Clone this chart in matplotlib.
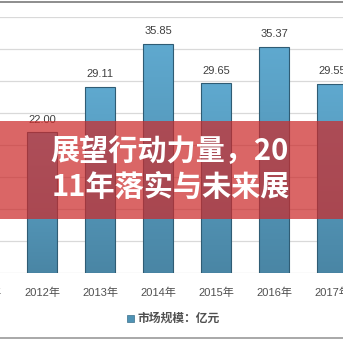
import numpy as np
import matplotlib
matplotlib.use("Agg")
import matplotlib.pyplot as plt
from matplotlib.patches import Rectangle
from matplotlib.lines import Line2D
from matplotlib.colors import LinearSegmentedColormap

# ---- data ----
years = ["2011年", "2012年", "2013年", "2014年", "2015年", "2016年", "2017年"]
bar_years = ["2012年", "2013年", "2014年", "2015年", "2016年", "2017年"]
values = [22.00, 29.11, 35.85, 29.65, 35.37, 29.55]
legend_label = "市场规模：亿元"
title_line1 = "展望行动力量，20"
title_line2 = "11年落实与未来展"

W = H = 343
fig = plt.figure(figsize=(3.43, 3.43), dpi=100)
fig.patch.set_facecolor("white")

# axes: baseline at y=273px from top, 40 at y=17px
ax = fig.add_axes([0, 70 / H, 1, 256 / H])
ax.set_xlim(16 / 58, (343 + 16) / 58)
ax.set_ylim(0, 40)
for s in ax.spines.values():
    s.set_visible(False)
ax.set_yticks(np.arange(0, 41, 5))
ax.tick_params(left=False, labelleft=False, bottom=False, labelbottom=False)
ax.grid(axis="y", color="#d9d9d9", linewidth=0.9)
ax.set_axisbelow(True)

pos = {y: i for i, y in enumerate(years)}
xs = [pos[y] for y in bar_years]
bars = ax.bar(xs, values, width=30 / 58, color="none", edgecolor="#2f5c74",
              linewidth=0.8, zorder=3)
cmap = LinearSegmentedColormap.from_list("g", ["#4a86a5", "#5fa9cf"])
grad = np.linspace(0, 1, 100).reshape(-1, 1)
for b in bars:
    x0, w, h = b.get_x(), b.get_width(), b.get_height()
    im = ax.imshow(grad, cmap=cmap, origin="lower", aspect="auto",
                   extent=(x0, x0 + w, 0, h), zorder=2)
    im.set_clip_path(b)
ax.set_xlim(16 / 58, (343 + 16) / 58)
ax.set_ylim(0, 40)

lab_font = ["Liberation Sans", "Noto Sans CJK SC"]
for x, v in zip(xs, values):
    ax.annotate(f"{v:.2f}", (x, v), xytext=(0, 9), textcoords="offset points",
                ha="center", va="center", fontsize=8, color="#404040",
                family=lab_font)

# category labels
for y, i in pos.items():
    ax.annotate(y, (i, 0), xytext=(0, -14), textcoords="offset points",
                ha="center", va="center", fontsize=8, color="#505050",
                family=["Liberation Sans", "Noto Sans CJK SC"],
                annotation_clip=False)

# legend
fig.patches.append(Rectangle(((127) / W, 1 - 322 / H), 7 / W, 7 / H,
                             transform=fig.transFigure, facecolor="#4f93b5",
                             edgecolor="#3b6f8a", linewidth=0.5))
fig.text(137 / W, 1 - 318 / H, legend_label, ha="left", va="center",
         fontsize=8.5, color="#505050", family=["Noto Sans CJK SC"],
         fontweight="bold")

# frame lines
fig.add_artist(Line2D([0, 1], [1 - 2 / H, 1 - 2 / H], color="#7a7a7a",
                      linewidth=1.2, transform=fig.transFigure))
fig.add_artist(Line2D([0, 1], [1 - 338 / H, 1 - 338 / H], color="#9a9a9a",
                      linewidth=1.2, transform=fig.transFigure))

# banner overlay
fig.add_artist(Rectangle((0, 1 - 219 / H), 1, 98 / H, transform=fig.transFigure,
                         facecolor=(0.80, 0.17, 0.17), alpha=0.72,
                         edgecolor="none", zorder=10))
fig.text(50 / W, 1 - 151 / H, title_line1, ha="left", va="center",
         fontsize=21, color="white", fontweight="bold",
         family=["Noto Sans CJK SC"], zorder=11)
fig.text(52 / W, 1 - 187 / H, title_line2, ha="left", va="center",
         fontsize=21, color="white", fontweight="bold",
         family=["Noto Sans CJK SC"], zorder=11)

fig.savefig("out.png", dpi=100, facecolor="white")
